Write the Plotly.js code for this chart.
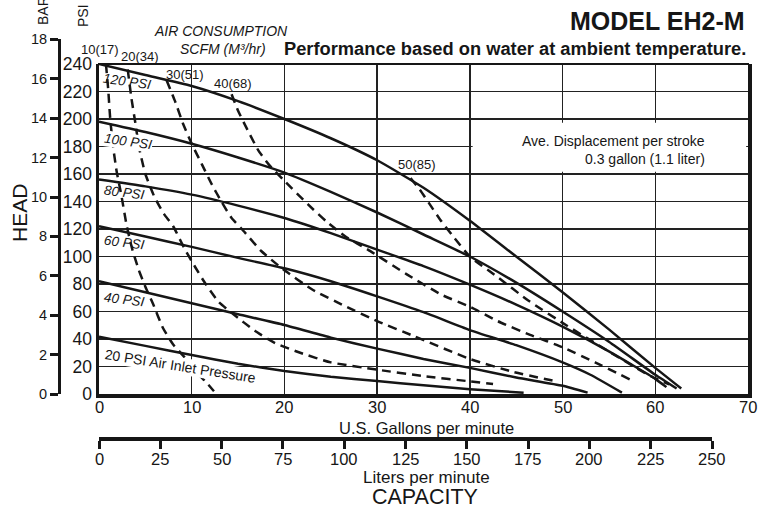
<!DOCTYPE html>
<html><head><meta charset="utf-8">
<script src="https://cdn.plot.ly/plotly-3.0.1.min.js"></script>
<style>html,body{margin:0;padding:0;background:#fff}#chart{width:765px;height:508px}</style>
</head><body><div id="chart"></div>
<script>
// ---- tick labels / axes values ----
const gpmTicks = [0, 10, 20, 30, 40, 50, 60, 70];
const psiTicks = [0, 20, 40, 60, 80, 100, 120, 140, 160, 180, 200, 220, 240];
const barTicks = [0, 2, 4, 6, 8, 10, 12, 14, 16, 18];
const lpmTicks = [0, 25, 50, 75, 100, 125, 150, 175, 200, 225, 250];

// ---- air inlet pressure curves (gpm, psi head) ----
const p120Gpm = [0, 5, 10, 15, 20, 25, 30, 35, 40, 45, 50, 55, 60, 62.8];
const p120Psi = [240, 232, 224, 213, 200, 186, 170, 150, 126, 100, 74, 47, 19, 4];
const p100Gpm = [0, 5, 10, 15, 20, 25, 30, 35, 40, 45, 50, 55, 60, 62.3];
const p100Psi = [198, 190.5, 182, 172, 161, 147, 132, 116, 100, 81, 60, 38, 14, 4];
const p80Gpm = [0, 5, 10, 15, 20, 25, 30, 35, 40, 45, 50, 55, 60, 61.2];
const p80Psi = [156, 151, 145, 137, 128, 117, 105, 93, 79.5, 65, 49, 31, 11, 5];
const p60Gpm = [0, 5, 10, 15, 20, 25, 30, 35, 40, 45, 50, 53, 56.4];
const p60Psi = [122, 114.5, 107, 99, 91.4, 82, 71, 59.5, 46.5, 35.5, 23, 14, 1];
const p40Gpm = [0, 5, 10, 15, 20, 25, 30, 35, 40, 45, 50, 52.7];
const p40Psi = [82, 74, 66, 58, 50.2, 41, 33, 25.5, 19, 12, 6, 1];
const p20Gpm = [0, 5, 10, 15, 20, 25, 30, 35, 40, 45.8];
const p20Psi = [41.7, 35, 28.4, 22, 16.7, 12.5, 9.5, 6.3, 3.5, 1];

// ---- air consumption curves, SCFM (m3/hr) ----
const c10Gpm = [0.75, 1.0, 1.2, 1.5, 1.9, 2.4, 3.0, 3.6, 4.3, 5.0, 5.8, 6.9, 8.0, 9.2, 10.5, 11.5, 12.4];
const c10Psi = [240, 221, 201, 181, 162, 145, 122, 105, 90, 78, 66, 48, 36, 27, 16, 9, 2];
const c20Gpm = [3.1, 3.5, 3.9, 4.3, 5.0, 6.0, 7.0, 8.0, 9.2, 10.4, 11.5, 12.9, 14.5, 16.8, 19.0, 21.7, 25, 30, 35, 40, 42.5];
const c20Psi = [236, 215, 198, 180, 160, 143, 131, 122, 106, 92, 80, 67, 58, 46, 37, 30, 23, 17.7, 13, 9.2, 7.3];
const c30Gpm = [7.3, 8.2, 9.1, 10, 11.1, 12.2, 13.2, 14.3, 15.4, 17.5, 19.8, 23, 26.5, 30, 34, 40, 44.7, 49.5];
const c30Psi = [228, 213, 196, 182, 167, 152, 140, 128, 120, 104, 91, 76, 64, 53, 42, 25.5, 16, 9];
const c40Gpm = [14.3, 15.0, 16.1, 17.2, 18.3, 20, 22.6, 24.6, 26.7, 29, 33.2, 37, 40, 43, 46.5, 50, 53.5, 57.3];
const c40Psi = [218, 206, 191, 177, 167, 155, 137.5, 125, 114, 105, 87, 72, 63.5, 53, 43, 34, 23, 10.5];
const c50Gpm = [33.6, 34.6, 35.7, 36.8, 38.2, 40, 42.9, 46.3, 50.4, 55.7, 59.5, 61.5];
const c50Psi = [157, 148.6, 137.7, 126.8, 114.6, 100, 85.5, 68, 50, 28, 13, 7];

const pressureLabels = ['120 PSI', '100 PSI', '80 PSI', '60 PSI', '40 PSI', '20 PSI Air Inlet Pressure'];
const airLabels = ['10(17)', '20(34)', '30(51)', '40(68)', '50(85)'];

// ---- styling ----
const W = 765, H = 508;
const FONT = '"Liberation Sans", Arial, Helvetica, sans-serif';
const INK = '#161616';
const px = v => v / W;
const py = v => (H - v) / H;

const solid = (x, y) => ({x, y, type: 'scatter', mode: 'lines', hoverinfo: 'skip',
  line: {color: INK, width: 2.5, shape: 'spline', smoothing: 0.5}});
const dashed = (x, y) => ({x, y, type: 'scatter', mode: 'lines', hoverinfo: 'skip',
  line: {color: INK, width: 2.5, dash: '9px,6px', shape: 'spline', smoothing: 0.5}});

const traces = [
  solid(p120Gpm, p120Psi), solid(p100Gpm, p100Psi), solid(p80Gpm, p80Psi),
  solid(p60Gpm, p60Psi), solid(p40Gpm, p40Psi), solid(p20Gpm, p20Psi),
  dashed(c10Gpm, c10Psi), dashed(c20Gpm, c20Psi), dashed(c30Gpm, c30Psi),
  dashed(c40Gpm, c40Psi), dashed(c50Gpm, c50Psi),
  // carrier for the BAR and liters/min scales
  {x: [null], y: [null], xaxis: 'x3', yaxis: 'y2', type: 'scatter', mode: 'markers', hoverinfo: 'skip'}
];

const ann = [];
const txt = (x, y, text, o) => ann.push(Object.assign({x: px(x), y: py(y), xref: 'paper', yref: 'paper',
  text, showarrow: false, xanchor: 'center', yanchor: 'middle',
  font: {family: FONT, size: 14, color: INK}}, o || {}));

// bottom tick labels, placed on their own axes
gpmTicks.forEach(v => ann.push({x: v, xref: 'x', y: py(406.5), yref: 'paper', text: String(v),
  showarrow: false, xanchor: 'center', yanchor: 'middle', font: {family: FONT, size: 16.5, color: INK}}));
lpmTicks.forEach(v => ann.push({x: v, xref: 'x3', y: py(458.5), yref: 'paper', text: String(v),
  showarrow: false, xanchor: 'center', yanchor: 'middle', font: {family: FONT, size: 16.5, color: INK}}));

txt(747, 21, '<b>MODEL EH2-M</b>', {xanchor: 'right', font: {family: FONT, size: 25, color: INK}});
txt(748, 48, '<b>Performance based on water at ambient temperature.</b>', {xanchor: 'right', font: {family: FONT, size: 18.3, color: INK}});
txt(221, 31, '<i>AIR CONSUMPTION</i>', {font: {family: FONT, size: 14, color: INK}});
txt(223, 49, '<i>SCFM (M³/hr)</i>', {font: {family: FONT, size: 14, color: INK}});
const airPos = [[100, 49], [140, 56], [185, 74.5], [233, 83], [417, 164]];
airLabels.forEach((t, i) => txt(airPos[i][0], airPos[i][1], t, {font: {family: FONT, size: 13, color: INK}}));
const presPos = [[127, 81, 8, false], [128, 142, 8, true], [124, 192, 7, false], [124, 242, 7, false], [124, 299, 7, false]];
pressureLabels.slice(0, 5).forEach((t, i) => {
  const p = presPos[i];
  txt(p[0], p[1], '<i>' + t + '</i>', {textangle: p[2], bgcolor: p[3] ? '#fff' : 'rgba(0,0,0,0)', borderpad: 0,
    font: {family: FONT, size: 13.5, color: INK}});
});
txt(180, 366, pressureLabels[5], {textangle: 9, bgcolor: '#fff', borderpad: 0, font: {family: FONT, size: 14, color: INK}});
txt(707, 141, 'Ave. Displacement per stroke', {xanchor: 'right'});
txt(707, 158.5, '0.3 gallon (1.1 liter)', {xanchor: 'right'});
txt(19, 213, 'HEAD', {textangle: -90, font: {family: FONT, size: 21, color: INK}});
txt(83, 16, 'PSI', {textangle: -90, font: {family: FONT, size: 14, color: INK}});
txt(43, 11, 'BAR', {textangle: -90, font: {family: FONT, size: 14, color: INK}});
txt(426, 427.5, 'U.S. Gallons per minute', {font: {family: FONT, size: 16.5, color: INK}});
txt(426, 477, 'Liters per minute', {font: {family: FONT, size: 17, color: INK}});
txt(425, 497, 'CAPACITY', {font: {family: FONT, size: 21.5, color: INK}});

const layout = {
  width: W, height: H, margin: {l: 0, r: 0, t: 0, b: 0},
  paper_bgcolor: '#fff', plot_bgcolor: 'rgba(0,0,0,0)', showlegend: false,
  font: {family: FONT, color: INK},
  xaxis: {domain: [px(99), px(748)], range: [0, 70], tickvals: gpmTicks, ticks: '', showticklabels: false,
    showgrid: true, gridcolor: '#222', gridwidth: 1.5, zeroline: false,
    showline: true, linecolor: INK, linewidth: 4, mirror: false, fixedrange: true},
  yaxis: {domain: [py(394), py(64)], range: [0, 240], tickvals: psiTicks, ticks: '',
    showgrid: true, gridcolor: '#222', gridwidth: 1.5, zeroline: false,
    showline: true, linecolor: INK, linewidth: 3.5, mirror: true,
    tickfont: {family: FONT, size: 17.5, color: INK}, fixedrange: true},
  yaxis2: {domain: [py(394), py(39.4)], range: [0, 18], tickvals: barTicks, anchor: 'free',
    position: px(59), side: 'left', ticks: 'outside', ticklen: 8, tickwidth: 3, tickcolor: INK,
    showline: true, linecolor: INK, linewidth: 3, showgrid: false, zeroline: false,
    tickfont: {family: FONT, size: 14.5, color: INK}, fixedrange: true},
  xaxis3: {domain: [px(99), px(712)], range: [0, 250], tickvals: lpmTicks, anchor: 'free',
    position: py(439), side: 'bottom', ticks: 'outside', ticklen: 8, tickwidth: 3, tickcolor: INK,
    showline: true, linecolor: INK, linewidth: 4, showgrid: false, zeroline: false, showticklabels: false,
    fixedrange: true},
  shapes: [
    {type: 'rect', xref: 'x', yref: 'y', x0: 40.3, x1: 69.8, y0: 161.7, y1: 197.3,
      fillcolor: '#fff', line: {width: 0}, layer: 'between'},
    {type: 'line', xref: 'paper', yref: 'paper', x0: px(98), x1: px(749), y0: py(64), y1: py(64),
      line: {color: INK, width: 2}}
  ],
  annotations: ann
};

Plotly.newPlot('chart', traces, layout, {staticPlot: true, displayModeBar: false});
</script>
</body></html>
